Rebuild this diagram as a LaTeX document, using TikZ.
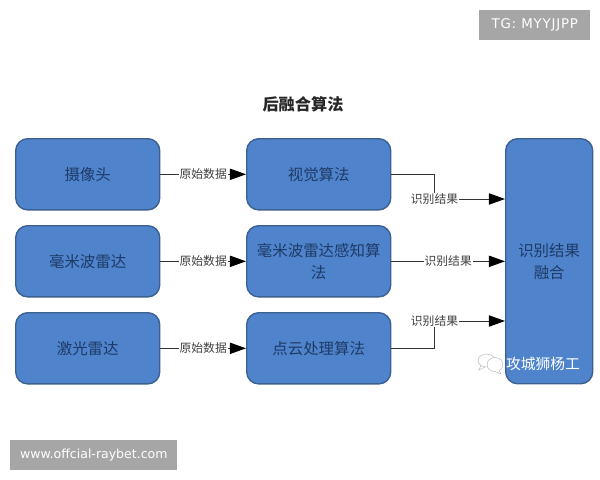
\documentclass[tikz,border=0pt]{standalone}
\usepackage{fontspec}
\usepackage{xcolor}
\setmainfont{Noto Sans CJK SC}
\newfontfamily\latinfont{DejaVu Sans}
\newfontfamily\latinwide[LetterSpace=6]{DejaVu Sans}
\usetikzlibrary{arrows.meta}

\definecolor{boxblue}{HTML}{4F84CC}
\definecolor{boxline}{HTML}{3C6090}
\definecolor{boxtext}{HTML}{1E3A66}
\definecolor{tagback}{HTML}{A6A6A6}

\tikzset{
    algobox/.style={draw=boxline, line width=1pt, fill=boxblue, rounded corners=3mm, text=boxtext, font=\fontsize{11}{15.5}\selectfont, align=center, anchor=north west, inner sep=0pt},
    flowlabel/.style={fill=white, text=black!75, font=\fontsize{8.4}{10}\selectfont, inner xsep=0.5pt, inner ysep=0pt},
    flowline/.style={draw=black!80, line width=0.7pt},
    flowarrow/.style={flowline, -{Triangle[length=4mm, width=2.8mm, color=black]}},
    tagbox/.style={fill=tagback, text=white, minimum height=0.75cm, inner sep=0pt, anchor=north west},
    chatbubble/.style={fill=white, draw=black!30, line width=0.3pt}
}

\begin{document}
\begin{tikzpicture}[x=0.025cm, y=-0.025cm]
    \useasboundingbox (0, 0) rectangle (600, 480);

    \node[font=\fontsize{11.5}{13}\selectfont\bfseries, text=black!85] (title) at (303, 104) {后融合算法};

    % sensors
    \node[algobox, minimum width=3.6cm, minimum height=1.78cm] (camera) at (15, 138) {摄像头};
    \node[algobox, minimum width=3.6cm, minimum height=1.78cm] (radar) at (15, 225) {毫米波雷达};
    \node[algobox, minimum width=3.6cm, minimum height=1.78cm] (lidar) at (15, 312) {激光雷达};

    % algorithms
    \node[algobox, minimum width=3.6cm, minimum height=1.78cm] (vision) at (246, 138) {视觉算法};
    \node[algobox, minimum width=3.6cm, minimum height=1.78cm] (perception) at (246, 225) {毫米波雷达感知算\\法};
    \node[algobox, minimum width=3.6cm, minimum height=1.78cm] (cloud) at (246, 312) {点云处理算法};

    \node[algobox, minimum width=2.175cm, minimum height=6.125cm] (fusion) at (505, 138) {识别结果\\融合};

    % left arrows
    \draw[flowarrow] (camera) -- node[flowlabel] (rawa) {原始数据} (vision);
    \draw[flowarrow] (radar) -- node[flowlabel] (rawb) {原始数据} (perception);
    \draw[flowarrow] (lidar) -- node[flowlabel] (rawc) {原始数据} (cloud);

    % right arrows
    \node[flowlabel] (resulta) at (434.5, 199) {识别结果};
    \node[flowlabel] (resultc) at (434.5, 321) {识别结果};
    \draw[flowline] (vision.east) -| (resulta.north);
    \draw[flowarrow] (resulta.east) -- (resulta.east -| fusion.west);
    \draw[flowarrow] (perception.east) -- node[flowlabel] (resultb) {识别结果} (perception.east -| fusion.west);
    \draw[flowline] (cloud.east) -| (resultc.south);
    \draw[flowarrow] (resultc.east) -- (resultc.east -| fusion.west);

    % watermarks
    \node[text=white, font=\fontsize{10.5}{12}\selectfont] (author) at (543, 364) {攻城狮杨工};
    \draw[chatbubble] (481, 365) -- (479, 370) -- (485, 367) (486.5, 360.5) ellipse (8.5 and 6.5);
    \draw[chatbubble] (495, 364.5) ellipse (8 and 7);
    \draw[chatbubble] (499, 370) -- (501, 374) -- (495, 371.5);
    \node[tagbox, minimum width=2.775cm, font=\latinwide\fontsize{9.5}{11}\selectfont] (tagtop) at (479, 10) {TG: MYYJJPP};
    \node[tagbox, minimum width=4.175cm, font=\latinfont\fontsize{8.9}{11}\selectfont] (tagbottom) at (10, 440) {www.offcial-raybet.com};
\end{tikzpicture}
\end{document}
